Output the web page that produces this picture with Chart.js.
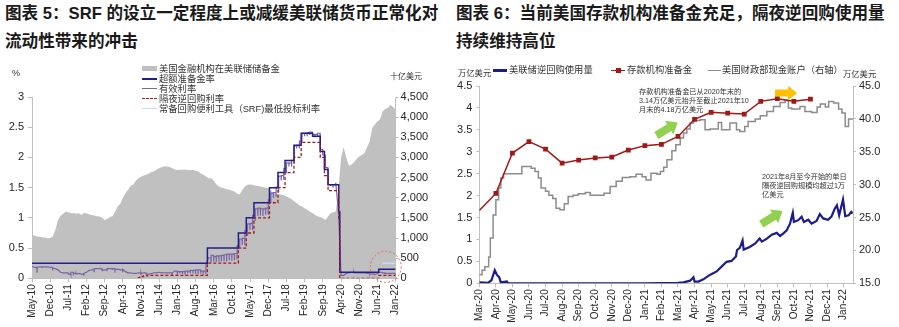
<!DOCTYPE html>
<html>
<head>
<meta charset="utf-8">
<script src="https://cdn.jsdelivr.net/npm/chart.js@4/dist/chart.umd.min.js"></script>
<style>
  body { margin:0; width:899px; height:327px; background:#fff; position:relative; overflow:hidden;
         font-family:"Liberation Sans", Arial, "Noto Sans CJK SC", sans-serif; color:#222; }
  canvas { position:absolute; top:55px; }
  .title { position:absolute; top:0; font-weight:bold; font-size:16.6px; line-height:27.5px; white-space:nowrap; color:#1a1a1a; }
  .txt { position:absolute; white-space:nowrap; color:#333; }
  .leg { position:absolute; white-space:nowrap; font-size:9.3px; line-height:10px; color:#333; }
  .sw { position:absolute; }
  .note { position:absolute; white-space:nowrap; font-size:7.2px; line-height:9px; color:#333; }
</style>
</head>
<body>
<div class="title" style="left:5px">图表 5：SRF 的设立一定程度上或减缓美联储货币正常化对<br>流动性带来的冲击</div>
<div class="title" style="left:456px">图表 6：当前美国存款机构准备金充足，隔夜逆回购使用量<br>持续维持高位</div>

<canvas id="c1" width="450" height="272" style="left:0"></canvas>
<canvas id="c2" width="449" height="272" style="left:450px"></canvas>

<!-- left chart: units + legend -->
<div class="txt" style="left:12px;top:67px;font-size:9px;line-height:12px">%</div>
<div class="txt" style="left:390px;top:72px;font-size:8px;line-height:10px">十亿美元</div>
<div class="sw" style="left:142px;top:66px;width:15px;height:5px;background:#c0c0c0"></div>
<div class="leg" style="left:159px;top:63.5px">美国金融机构在美联储储备金</div>
<div class="sw" style="left:142px;top:77.5px;width:15px;height:2px;background:#1f1f8c"></div>
<div class="leg" style="left:159px;top:73.5px">超额准备金率</div>
<div class="sw" style="left:142px;top:87.5px;width:15px;height:1.5px;background:#7a64a6"></div>
<div class="leg" style="left:159px;top:83.5px">有效利率</div>
<div class="sw" style="left:142px;top:97.5px;width:15px;height:0;border-top:1.5px dashed #9e1b1b"></div>
<div class="leg" style="left:159px;top:93.5px">隔夜逆回购利率</div>
<div class="sw" style="left:142px;top:107.5px;width:15px;height:1.5px;background:#c6daf0"></div>
<div class="leg" style="left:159px;top:103.5px">常备回购便利工具（SRF)最低投标利率</div>

<!-- right chart: units + legend -->
<div class="txt" style="left:458px;top:68px;font-size:8.3px;line-height:10px">万亿美元</div>
<div class="txt" style="left:843px;top:69px;font-size:8.3px;line-height:10px">万亿美元</div>
<div class="sw" style="left:493px;top:69px;width:14px;height:2.5px;background:#1c1c8c"></div>
<div class="leg" style="left:509px;top:65px">美联储逆回购使用量</div>
<div class="sw" style="left:611px;top:69.5px;width:14px;height:1.5px;background:#a01818"></div>
<div class="sw" style="left:616px;top:68px;width:4.5px;height:4.5px;background:#a01818"></div>
<div class="leg" style="left:627px;top:65px">存款机构准备金</div>
<div class="sw" style="left:708px;top:69.5px;width:13px;height:1.5px;background:#8c8c8c"></div>
<div class="leg" style="left:722px;top:65px">美国财政部现金账户（右轴）</div>

<div class="note" style="left:639px;top:87px">存款机构准备金已从2020年末的<br>3.14万亿美元抬升至截止2021年10<br>月末的4.18万亿美元</div>
<div class="note" style="left:762px;top:171.5px">2021年8月至今开始的单日<br>隔夜逆回购规模均超过1万<br>亿美元</div>

<script>
// ---------- 图表5 data (monthly x index: 0 = May-10) ----------
const xLabelsL = ['May-10','Dec-10','Jul-11','Feb-12','Sep-12','Apr-13','Nov-13','Jun-14','Jan-15','Aug-15',
  'Mar-16','Oct-16','May-17','Dec-17','Jul-18','Feb-19','Sep-19','Apr-20','Nov-20','Jun-21','Jan-22'];

// reserves held at the Fed, 十亿美元, one value per month May-10 .. Jan-22
const reserves = [
  1076,1060,1040,1030,1020,1010,994,1000,
  1035,1200,1450,1550,1600,1656,1640,1615,1620,1600,1615,1580,
  1620,1615,1590,1574,1560,1540,1532,1500,1450,1480,1520,1540,
  1650,1780,1850,2000,2113,2200,2300,2330,2420,2486,2520,2550,
  2568,2600,2640,2660,2700,2734,2760,2780,2775,2760,2734,2700,
  2690,2692,2692,2700,2690,2680,2692,2670,2651,2600,2568,2527,
  2486,2486,2420,2330,2280,2250,2237,2210,2195,2170,2154,2100,
  2080,2200,2280,2320,2330,2320,2300,2290,2278,2260,2250,2237,
  2180,2113,2100,2090,2071,2060,2030,2000,1960,1905,1860,1810,
  1781,1740,1699,1650,1620,1574,1540,1520,1492,1450,1540,1615,
  1640,1656,2200,3000,3250,3000,2800,2817,2880,2960,3024,3060,
  3107,3250,3397,3729,3820,3894,3950,4143,4200,4226,4308,4250,
  4184
];

// effective fed funds rate: monthly level and month-end low
const effrBase = [
  0.20,0.18,0.18,0.19,0.19,0.19,0.19,0.18,
  0.17,0.16,0.14,0.10,0.09,0.09,0.07,0.10,0.08,0.07,0.08,0.07,
  0.08,0.10,0.13,0.14,0.16,0.16,0.16,0.13,0.14,0.16,0.16,0.16,
  0.14,0.15,0.14,0.15,0.11,0.09,0.09,0.08,0.08,0.09,0.08,0.09,
  0.07,0.07,0.08,0.09,0.09,0.10,0.09,0.09,0.09,0.09,0.09,0.12,
  0.11,0.11,0.11,0.12,0.12,0.13,0.13,0.14,0.14,0.12,0.12,0.24,
  0.34,0.38,0.36,0.37,0.37,0.38,0.39,0.40,0.40,0.40,0.41,0.54,
  0.65,0.66,0.79,0.90,0.91,1.04,1.15,1.16,1.15,1.15,1.16,1.30,
  1.41,1.42,1.51,1.69,1.70,1.82,1.91,1.91,1.95,2.19,2.20,2.27,
  2.40,2.40,2.41,2.42,2.38,2.38,2.40,2.13,2.04,1.83,1.55,1.55,
  1.55,1.58,1.10,0.05,0.05,0.08,0.09,0.10,0.09,0.09,0.09,0.09,
  0.09,0.08,0.07,0.07,0.06,0.08,0.10,0.09,0.08,0.08,0.08,0.08,
  0.08
];
const effrLow = [
  0.20,0.10,0.18,0.17,0.19,0.19,0.19,0.13,
  0.17,0.16,0.14,0.10,0.09,0.07,0.06,0.05,0.07,0.07,0.08,0.04,
  0.08,0.10,0.13,0.10,0.16,0.16,0.14,0.13,0.12,0.16,0.14,0.09,
  0.14,0.15,0.10,0.15,0.11,0.09,0.09,0.08,0.08,0.05,0.08,0.07,
  0.07,0.07,0.08,0.09,0.09,0.10,0.09,0.09,0.09,0.06,0.09,0.06,
  0.08,0.07,0.07,0.08,0.08,0.08,0.07,0.08,0.08,0.06,0.07,0.24,
  0.27,0.28,0.27,0.28,0.28,0.29,0.28,0.30,0.29,0.30,0.31,0.50,
  0.55,0.55,0.70,0.80,0.80,0.95,1.03,1.04,1.03,1.05,1.05,1.25,
  1.33,1.35,1.42,1.62,1.63,1.74,1.85,1.85,1.90,2.15,2.15,2.25,
  2.35,2.35,2.37,2.40,2.33,2.35,2.37,2.10,2.00,1.80,1.53,1.50,
  1.53,1.58,1.10,0.05,0.05,0.08,0.09,0.09,0.09,0.09,0.09,0.09,
  0.09,0.07,0.07,0.05,0.06,0.08,0.08,0.08,0.08,0.08,0.08,0.07,
  0.08
];

// step series (value holds from date until next date)
const ioerDates = ['2010-05-01','2015-12-17','2016-12-15','2017-03-16','2017-06-15','2017-12-14','2018-03-22',
  '2018-06-14','2018-09-27','2018-12-20','2019-05-02','2019-08-01','2019-09-19','2019-10-31','2020-03-04',
  '2020-03-16','2021-06-17','2022-01-01'];
const ioerRates = [0.25,0.50,0.75,1.00,1.25,1.50,1.75,1.95,2.20,2.40,2.35,2.10,1.80,1.55,1.10,0.10,0.15,0.15];

const onrrpDates = ['2013-09-23','2013-10-15','2013-12-01','2014-01-15','2015-12-17','2016-12-15','2017-03-16',
  '2017-06-15','2017-12-14','2018-03-22','2018-06-14','2018-09-27','2018-12-20','2019-08-01','2019-09-19',
  '2019-10-31','2020-03-04','2020-03-16','2021-06-17','2022-01-01'];
const onrrpRates = [0.01,0.03,0.04,0.05,0.25,0.50,0.75,1.00,1.25,1.50,1.75,2.00,2.25,2.00,1.70,1.45,1.00,0.00,0.05,0.05];

const srfDates = ['2021-07-28','2022-01-01'];
const srfRates = [0.25,0.25];

// ---------- 图表6 data (x: months from Mar-20) ----------
const xLabelsR = ['Mar-20','Apr-20','May-20','Jun-20','Jul-20','Aug-20','Sep-20','Oct-20','Nov-20','Dec-20',
  'Jan-21','Feb-21','Mar-21','Apr-21','May-21','Jun-21','Jul-21','Aug-21','Sep-21','Oct-21','Nov-21','Dec-21','Jan-22'];

// 存款机构准备金, 万亿美元, month starts Mar-20 .. Nov-21
const depReserves = [1.66,2.05,2.97,3.23,3.06,2.74,2.81,2.86,2.88,3.04,3.14,3.17,3.35,3.74,3.90,3.88,3.86,4.15,4.21,4.15,4.20];

// 美联储逆回购使用量, 万亿美元
const rrpUseDates = ['2020-03-01','2020-03-17','2020-03-23','2020-03-29','2020-04-03','2020-04-07','2020-04-10',
  '2020-04-21','2020-04-23','2020-08-01','2021-01-01','2021-03-01','2021-03-11','2021-03-23','2021-03-29',
  '2021-04-01','2021-04-08','2021-04-17','2021-04-26','2021-05-02','2021-05-11','2021-05-20','2021-05-29',
  '2021-06-08','2021-06-16','2021-06-18','2021-06-23','2021-06-28','2021-06-30','2021-07-11','2021-07-21',
  '2021-07-29','2021-08-03','2021-08-12','2021-08-21','2021-08-30','2021-09-06','2021-09-12','2021-09-18',
  '2021-09-24','2021-09-29','2021-10-01','2021-10-09','2021-10-15','2021-10-19','2021-10-27','2021-11-03',
  '2021-11-12','2021-11-18','2021-11-24','2021-12-03','2021-12-09','2021-12-15','2021-12-19','2021-12-23',
  '2021-12-30','2022-01-04','2022-01-10','2022-01-15','2022-01-17'];
const rrpUse = [0.02,0.01,0.07,0.30,0.19,0.14,0.02,0.04,0.00,0.00,0.00,0.01,0.02,0.06,0.14,0.04,0.04,0.09,0.17,
  0.21,0.27,0.38,0.49,0.51,0.61,0.76,0.81,0.98,0.77,0.83,0.91,1.02,0.95,1.02,1.11,1.15,1.08,1.14,1.21,1.36,
  1.61,1.40,1.44,1.52,1.40,1.45,1.36,1.42,1.58,1.48,1.45,1.52,1.70,1.78,1.55,1.91,1.53,1.55,1.63,1.59];

// 美国财政部现金账户（右轴）, weekly steps
const tgaDates = ['2020-03-01','2020-03-06','2020-03-11','2020-03-18','2020-03-21','2020-03-26','2020-04-01',
  '2020-04-06','2020-04-10','2020-04-15','2020-05-18','2020-06-05','2020-06-12','2020-06-18','2020-06-23',
  '2020-07-01','2020-07-07','2020-07-14','2020-07-20','2020-07-27','2020-08-05','2020-08-12','2020-08-21',
  '2020-08-30','2020-09-13','2020-09-22','2020-10-17','2020-10-28','2020-11-09','2020-11-20','2020-12-04',
  '2020-12-15','2020-12-26','2021-01-03','2021-01-12','2021-01-23','2021-01-29','2021-02-05','2021-02-11',
  '2021-02-20','2021-02-27','2021-03-05','2021-03-11','2021-03-17','2021-03-23','2021-03-29','2021-04-11',
  '2021-04-20','2021-04-29','2021-05-14','2021-05-20','2021-06-05','2021-06-17','2021-06-23','2021-07-02',
  '2021-07-08','2021-07-21','2021-07-30','2021-08-12','2021-08-24','2021-09-06','2021-09-15','2021-09-21',
  '2021-09-27','2021-10-12','2021-10-21','2021-11-03','2021-11-13','2021-11-19','2021-11-28','2021-12-04',
  '2021-12-13','2021-12-22','2021-12-28','2022-01-04','2022-01-10','2022-01-18'];
const tga = [16.3,17.0,17.5,19.0,21.9,25.4,27.7,29.5,31.0,31.65,32.75,32.5,32.0,31.0,29.5,29.0,28.4,27.9,26.4,
  26.2,27.1,28.2,28.4,28.6,28.8,28.4,28.7,29.7,30.5,31.1,31.2,31.6,31.2,30.7,31.75,31.6,32.0,32.66,33.8,35.15,
  36.06,37.08,37.84,38.45,39.36,39.76,39.87,38.35,38.45,39.46,38.35,39.36,38.35,38.09,38.85,39.6,39.97,40.47,
  41.13,41.9,42.5,42.8,41.65,41.5,41.9,41.13,40.98,41.8,42.25,41.8,42.65,42.4,41.5,40.9,38.85,40.0,40.0];

// ---------- helpers ----------
function monthsFrom(d, y0, m0) {
  const [y, m, day] = d.split('-').map(Number);
  return (y - y0) * 12 + (m - m0) + (day - 1) / 30;
}
const pts = (dates, vals, y0, m0) => dates.map((d, i) => ({ x: monthsFrom(d, y0, m0), y: vals[i] }));
const plainNum = v => String(parseFloat(v.toFixed(2)));

const effrPts = [];
effrBase.forEach((v, i) => {
  effrPts.push({ x: i, y: v });
  if (effrLow[i] !== v && i < effrBase.length - 1) {
    effrPts.push({ x: i + 0.9, y: v }, { x: i + 0.93, y: effrLow[i] }, { x: i + 0.96, y: v });
  }
});

function drawArrow(ctx, x, y, ang, len, body, head, headLen, color) {
  ctx.save();
  ctx.translate(x, y);
  ctx.rotate(ang);
  ctx.beginPath();
  ctx.moveTo(-len / 2, -body / 2);
  ctx.lineTo(len / 2 - headLen, -body / 2);
  ctx.lineTo(len / 2 - headLen, -head / 2);
  ctx.lineTo(len / 2, 0);
  ctx.lineTo(len / 2 - headLen, head / 2);
  ctx.lineTo(len / 2 - headLen, body / 2);
  ctx.lineTo(-len / 2, body / 2);
  ctx.closePath();
  ctx.fillStyle = color;
  ctx.fill();
  ctx.restore();
}

// draws the dashed circle / block arrows, anchored on the chart scales
const marks = {
  id: 'marks',
  afterDatasetsDraw(chart, args, opts) {
    const { ctx, scales } = chart;
    (opts.circles || []).forEach(c => {
      ctx.save();
      ctx.strokeStyle = c.color;
      ctx.lineWidth = 1;
      ctx.setLineDash([2, 2]);
      ctx.beginPath();
      ctx.arc(scales.x.getPixelForValue(c.x), scales.y.getPixelForValue(c.y), c.r, 0, Math.PI * 2);
      ctx.stroke();
      ctx.restore();
    });
    (opts.arrows || []).forEach(a => {
      drawArrow(ctx, scales.x.getPixelForValue(a.x), scales.y.getPixelForValue(a.y),
        a.ang, a.len, a.body, a.head, a.headLen, a.color);
    });
  }
};

Chart.defaults.font.family = '"Liberation Sans", Arial, sans-serif';
Chart.defaults.color = '#262626';
const axisGray = '#bfbfbf';

// ---------- 图表5 ----------
new Chart(document.getElementById('c1'), {
  type: 'line',
  data: {
    datasets: [
      { label: '超额准备金率', data: pts(ioerDates, ioerRates, 2010, 5), stepped: true,
        borderColor: '#1f1f8c', borderWidth: 1.5, pointRadius: 0, yAxisID: 'y', order: 2 },
      { label: '有效利率', data: effrPts, borderColor: '#7a64a6', borderWidth: 1.2,
        pointRadius: 0, yAxisID: 'y', order: 3 },
      { label: '隔夜逆回购利率', data: pts(onrrpDates, onrrpRates, 2010, 5), stepped: true,
        borderColor: '#9e1b1b', borderWidth: 1.3, borderDash: [3, 2], pointRadius: 0, yAxisID: 'y', order: 1 },
      { label: '常备回购便利工具（SRF)最低投标利率', data: pts(srfDates, srfRates, 2010, 5),
        borderColor: '#c6daf0', borderWidth: 1.5, pointRadius: 0, yAxisID: 'y', order: 0 },
      { label: '美国金融机构在美联储储备金', data: reserves.map((v, i) => ({ x: i, y: v })),
        borderWidth: 0, backgroundColor: '#c0c0c0', fill: 'origin', pointRadius: 0, yAxisID: 'y1', order: 10 }
    ]
  },
  options: {
    responsive: false,
    animation: false,
    events: [],
    layout: { padding: { top: 42, left: 0, right: 0, bottom: 0 } },
    plugins: {
      legend: { display: false },
      tooltip: { enabled: false },
      marks: { circles: [{ x: 136.2, y: 0.19, r: 15.5, color: '#f06060' }] }
    },
    scales: {
      x: {
        type: 'linear', min: 0, max: 140,
        ticks: { stepSize: 7, includeBounds: false, autoSkip: false, maxRotation: 90, minRotation: 90,
          font: { size: 10 }, padding: 2, callback: v => xLabelsL[Math.round(v / 7)] },
        grid: { drawOnChartArea: false, tickLength: 4, color: axisGray },
        border: { color: axisGray },
        afterFit: s => { s.height = 48.7; }
      },
      y: {
        position: 'left', min: 0, max: 3,
        ticks: { stepSize: 0.5, font: { size: 11 }, padding: 4, callback: plainNum },
        grid: { drawOnChartArea: false, tickLength: 4, color: axisGray },
        border: { color: axisGray },
        afterFit: s => { s.width = 32; }
      },
      y1: {
        position: 'right', min: 0, max: 4500,
        ticks: { stepSize: 500, font: { size: 11 }, padding: 2 },
        grid: { drawOnChartArea: false, tickLength: 3, color: axisGray },
        border: { color: axisGray },
        afterFit: s => { s.width = 54.4; }
      }
    }
  },
  plugins: [marks]
});

// ---------- 图表6 ----------
new Chart(document.getElementById('c2'), {
  type: 'line',
  data: {
    datasets: [
      { label: '美联储逆回购使用量', data: pts(rrpUseDates, rrpUse, 2020, 3), borderColor: '#1c1c8c',
        borderWidth: 2.2, pointRadius: 0, yAxisID: 'y', order: 0 },
      { label: '存款机构准备金', data: depReserves.map((v, i) => ({ x: i, y: v })), borderColor: '#a01818',
        backgroundColor: '#a01818', borderWidth: 1.5, pointStyle: 'rect',
        pointRadius: c => (c.dataIndex === 0 ? 0 : 2.3), yAxisID: 'y', order: 1 },
      { label: '美国财政部现金账户（右轴）', data: pts(tgaDates, tga, 2020, 3), stepped: true,
        borderColor: '#8c8c8c', borderWidth: 1.5, pointRadius: 0, yAxisID: 'y1', order: 2 }
    ]
  },
  options: {
    responsive: false,
    animation: false,
    events: [],
    layout: { padding: { top: 31, left: 0, right: 0, bottom: 0 } },
    plugins: {
      legend: { display: false },
      tooltip: { enabled: false },
      marks: {
        arrows: [
          { x: 11.34, y: 3.52, ang: -0.55, len: 25, body: 8, head: 16, headLen: 10, color: '#92d050' },
          { x: 17.67, y: 1.50, ang: -0.55, len: 25, body: 8, head: 16, headLen: 10, color: '#92d050' },
          { x: 18.53, y: 4.34, ang: 0, len: 22, body: 7, head: 14, headLen: 9, color: '#ffc000' }
        ]
      }
    },
    scales: {
      x: {
        type: 'linear', min: 0, max: 22.57,
        ticks: { stepSize: 1, includeBounds: false, autoSkip: false, maxRotation: 90, minRotation: 90,
          font: { size: 10 }, padding: 2, callback: v => xLabelsR[Math.round(v)] },
        grid: { drawOnChartArea: false, tickLength: 4, color: axisGray },
        border: { color: axisGray },
        afterFit: s => { s.height = 43.7; }
      },
      y: {
        position: 'left', min: 0, max: 4.5,
        ticks: { stepSize: 0.5, font: { size: 11 }, padding: 4, callback: plainNum },
        grid: { drawOnChartArea: false, tickLength: 3, color: axisGray },
        border: { color: axisGray },
        afterFit: s => { s.width = 29.3; }
      },
      y1: {
        position: 'right', min: 15, max: 45,
        ticks: { stepSize: 5, font: { size: 11 }, padding: 3, callback: v => v.toFixed(1) },
        grid: { drawOnChartArea: false, tickLength: 3, color: axisGray },
        border: { color: axisGray },
        afterFit: s => { s.width = 46; }
      }
    }
  },
  plugins: [marks]
});
</script>
</body>
</html>
